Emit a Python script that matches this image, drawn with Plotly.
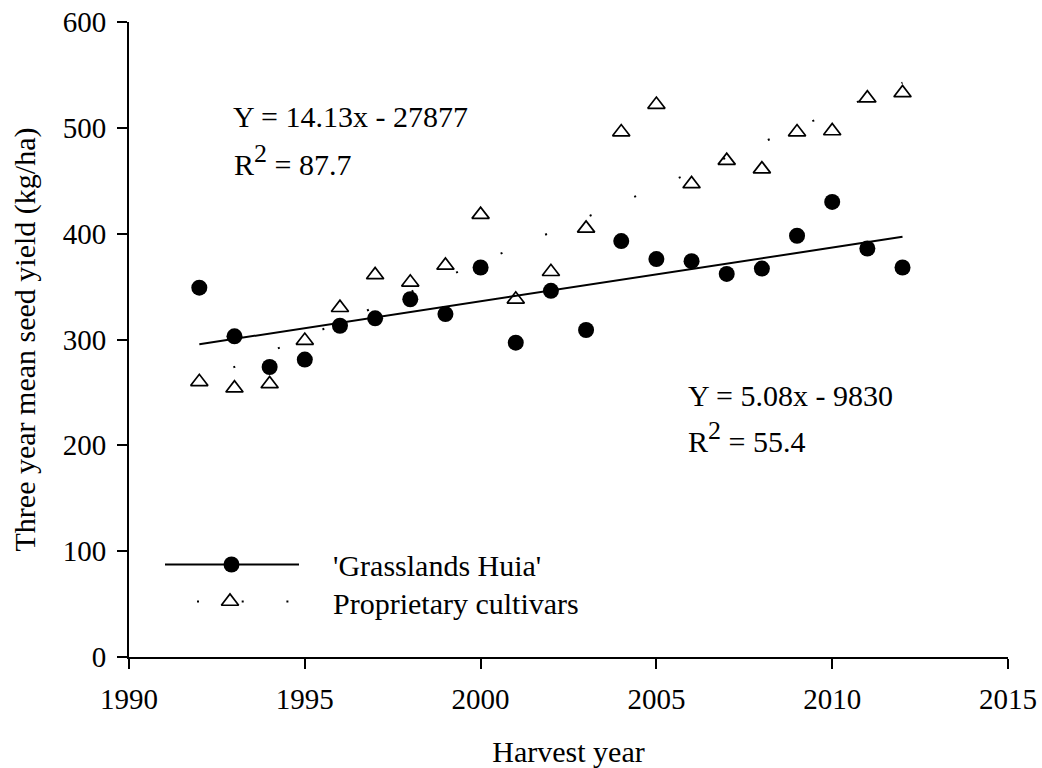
import plotly.graph_objects as go

# ---------------- data ----------------
years = [1992, 1993, 1994, 1995, 1996, 1997, 1998, 1999, 2000, 2001, 2002,
         2003, 2004, 2005, 2006, 2007, 2008, 2009, 2010, 2011, 2012]
huia = [349, 303, 274, 281, 313, 320, 338, 324, 368, 297, 346,
        309, 393, 376, 374, 362, 367, 398, 430, 386, 368]
proprietary = [260, 254, 258, 299, 330, 361, 354, 370, 418, 338, 364,
               405, 496, 522, 447, 469, 461, 496, 497, 528, 533]
trend_years = [1992, 2012]
huia_trend = [295.5, 397.0]
prop_trend = [260.0, 542.6]
x_ticks = [1990, 1995, 2000, 2005, 2010, 2015]
y_ticks = [0, 100, 200, 300, 400, 500, 600]

# ---------------- layout constants (pixels) ----------------
W, H = 1042, 768
L, R, T, B = 129, 1008, 22, 657   # plot area
FONT = "Liberation Serif"
FS_TICK = 29
FS = 30


def px(x):
    return (x - L) / (R - L)


def py(y):
    return (B - y) / (B - T)


fig = go.Figure()

# Proprietary trend (sparse dotted line): first dot offset, then regular spacing
dots = "0px,37px," + ",".join(["2px,46.4px"] * 18)
fig.add_trace(go.Scatter(x=trend_years, y=prop_trend, mode="lines",
                         line=dict(color="black", width=2, dash=dots),
                         showlegend=False, hoverinfo="skip"))
fig.add_trace(go.Scatter(x=trend_years, y=huia_trend, mode="lines",
                         line=dict(color="black", width=2),
                         showlegend=False, hoverinfo="skip"))
fig.add_trace(go.Scatter(x=years, y=proprietary, mode="markers", name="Proprietary cultivars",
                         marker=dict(symbol="triangle-up-open", size=15, color="black",
                                     line=dict(width=1.7, color="black")),
                         showlegend=False))
fig.add_trace(go.Scatter(x=years, y=huia, mode="markers", name="'Grasslands Huia'",
                         marker=dict(symbol="circle", size=16, color="black",
                                     line=dict(width=0)),
                         showlegend=False))

# ---------------- manual legend (overlay axes in paper units) ----------------
leg_y1, leg_y2 = 564.5, 601.5
leg_x0, leg_x1 = 165, 299
fig.add_trace(go.Scatter(x=[px(leg_x0), px(leg_x1)], y=[py(leg_y1)] * 2, mode="lines",
                         line=dict(color="black", width=2), xaxis="x2", yaxis="y2",
                         showlegend=False, hoverinfo="skip"))
fig.add_trace(go.Scatter(x=[px(231.5)], y=[py(leg_y1)], mode="markers",
                         marker=dict(symbol="circle", size=16, color="black"),
                         xaxis="x2", yaxis="y2", showlegend=False, hoverinfo="skip"))
leg_dots = "0px,32px," + ",".join(["2px,42.7px"] * 4)
fig.add_trace(go.Scatter(x=[px(leg_x0), px(leg_x1)], y=[py(leg_y2)] * 2, mode="lines",
                         line=dict(color="black", width=2, dash=leg_dots),
                         xaxis="x2", yaxis="y2", showlegend=False, hoverinfo="skip"))
fig.add_trace(go.Scatter(x=[px(230)], y=[py(leg_y2)], mode="markers",
                         marker=dict(symbol="triangle-up-open", size=15, color="black",
                                     line=dict(width=1.7, color="black")),
                         xaxis="x2", yaxis="y2", showlegend=False, hoverinfo="skip"))

ann_font = dict(family=FONT, size=FS, color="black")
sup2 = "<sup><span style='font-size:26px'>2</span></sup>"
annotations = [
    dict(text="Y = 14.13x - 27877", x=px(231), y=py(117)),
    dict(text="R" + sup2 + " = 87.7", x=px(232), y=py(160)),
    dict(text="Y = 5.08x - 9830", x=px(686), y=py(395)),
    dict(text="R" + sup2 + " = 55.4", x=px(686), y=py(437)),
    dict(text="'Grasslands Huia'", x=px(331), y=py(565.5)),
    dict(text="Proprietary cultivars", x=px(331), y=py(603)),
]
for a in annotations:
    a.update(xref="paper", yref="paper", xanchor="left", yanchor="middle",
             showarrow=False, font=ann_font)

axis_common = dict(showline=True, linecolor="black", linewidth=2, ticks="outside",
                   ticklen=10, tickwidth=2, tickcolor="black", showgrid=False,
                   zeroline=False, tickfont=dict(family=FONT, size=FS_TICK, color="black"),
                   ticklabeloverflow="allow", mirror=False)

fig.update_layout(
    width=W, height=H,
    margin=dict(l=L, r=W - R, t=T, b=H - B, autoexpand=False),
    plot_bgcolor="white", paper_bgcolor="white",
    font=dict(family=FONT, size=FS, color="black"),
    xaxis=dict(range=[1990, 2015], tickvals=x_ticks, ticktext=[str(v) for v in x_ticks],
               title=dict(text="Harvest year", font=dict(family=FONT, size=FS), standoff=30),
               ticklabelstandoff=5, **axis_common),
    yaxis=dict(range=[0, 600], tickvals=y_ticks, ticktext=[str(v) for v in y_ticks],
               title=dict(text="Three year mean seed yield (kg/ha)", font=dict(family=FONT, size=FS), standoff=18),
               ticklabelstandoff=5, **axis_common),
    xaxis2=dict(range=[0, 1], overlaying="x", visible=False, fixedrange=True),
    yaxis2=dict(range=[0, 1], overlaying="y", visible=False, fixedrange=True),
    annotations=annotations,
    showlegend=False,
)

fig.write_html("out.html",
               config={"displayModeBar": False},
               post_script="document.body.style.margin='0';"
                           "document.body.style.overflow='hidden';")
